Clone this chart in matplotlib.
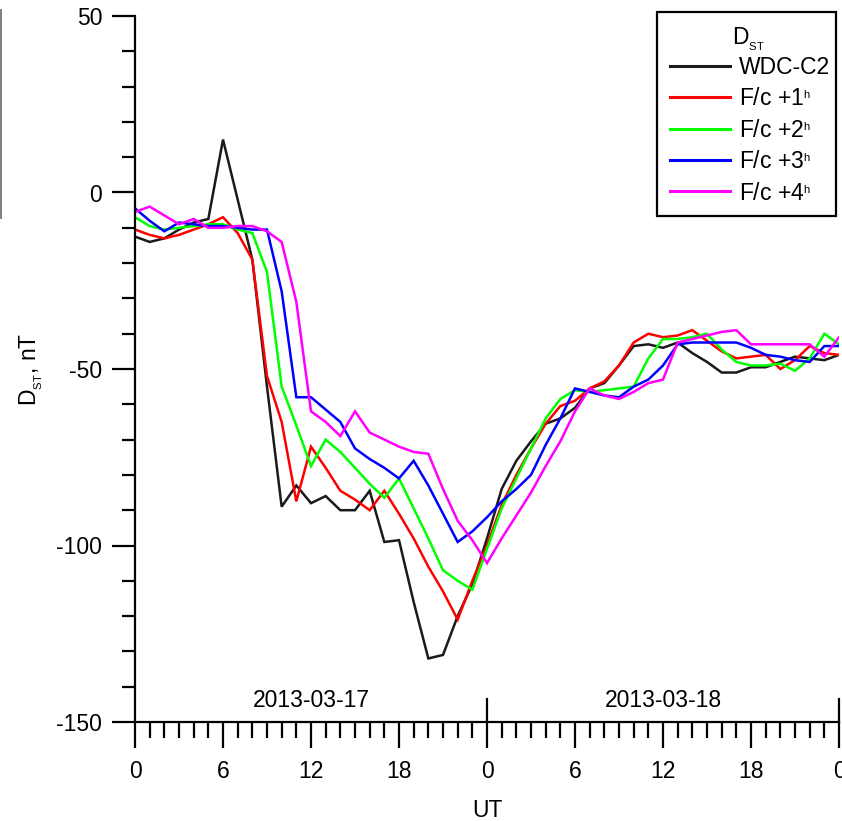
import matplotlib
matplotlib.use("Agg")
import matplotlib.pyplot as plt
import matplotlib.transforms as mtransforms
from matplotlib.lines import Line2D
from matplotlib.patches import Rectangle
from matplotlib.ticker import FixedLocator, FixedFormatter, MultipleLocator

plt.rcParams['font.family'] = ['Liberation Sans', 'DejaVu Sans']
plt.rcParams['mathtext.fontset'] = 'custom'
plt.rcParams['mathtext.rm'] = 'Liberation Sans'
plt.rcParams['mathtext.default'] = 'regular'
plt.rcParams['axes.unicode_minus'] = False

# Hourly UT from 2013-03-17 00h to 2013-03-19 00h
hours = list(range(49))

dst_wdc = [-12.5, -14, -13, -10.5, -8.5, -7.5, 15, -2, -19, -55,
           -89, -83, -88, -86, -90, -90, -84.5, -99, -98.5, -116,
           -132, -131, -120, -111, -98, -84, -76, -70.5, -65.5, -64,
           -61, -55.5, -54, -49, -43.5, -43, -44, -42.5, -45.5, -48,
           -51, -51, -49.5, -49.5, -48, -46.5, -47, -47.5, -46]

fc_1h = [-10.5, -12, -13, -12, -10.5, -9, -7, -11.5, -19, -52,
         -65, -87.5, -72, -78, -84.5, -87, -90, -84.5, -91, -98,
         -106, -113, -121, -110, -100, -88.5, -80, -72.5, -65.5, -60.5,
         -59, -55.5, -53.5, -49, -42.5, -40, -41, -40.5, -39, -42,
         -45, -47, -46.5, -46, -50, -47.5, -43.5, -45.5, -46]

fc_2h = [-7, -9.5, -10.5, -10, -9.5, -9, -9, -10.5, -11.5, -22.5,
         -55, -66, -77.5, -70, -73.5, -78, -82.5, -86.5, -81, -89.5,
         -98, -107, -110, -112.5, -101, -89.5, -81, -72.5, -64, -58.5,
         -56, -56.5, -56, -55.5, -55, -47, -41.5, -41.5, -41, -40,
         -44.5, -48, -49, -49, -48.5, -50.5, -47, -40, -43]

fc_3h = [-4.5, -8, -11, -8.5, -9, -9.5, -9.5, -10, -10.5, -10.5,
         -28, -58, -58, -61.5, -65, -72.5, -75.5, -78, -81, -76,
         -83, -91, -99, -96, -92, -87.5, -84, -80, -71.5, -64,
         -55.5, -56.5, -57.5, -58, -55, -53, -49, -43, -42.5, -42.5,
         -42.5, -42.5, -44, -46, -46.5, -47.5, -48, -43.5, -43.5]

fc_4h = [-5.5, -4, -6.5, -9, -7.5, -10, -10, -9.5, -9.5, -11,
         -14, -31, -62, -65, -69, -62, -68, -70, -72, -73.5,
         -74, -84, -93, -98.5, -105, -98, -91.5, -85, -77.5, -70.5,
         -62, -55.5, -57.5, -58.5, -56.5, -54, -53, -42.5, -41.5, -40.5,
         -39.5, -39, -43, -43, -43, -43, -43, -46.5, -41]

series_labels = ['WDC-C2', 'F/c +1$^{_{h}}$', 'F/c +2$^{_{h}}$', 'F/c +3$^{_{h}}$', 'F/c +4$^{_{h}}$']
series_colors = ['#1a1a1a', '#ff0000', '#00ff00', '#0000ff', '#ff00ff']
legend_title = r'D$_{_{ST}}$'

x_major = [0, 6, 12, 18, 24, 30, 36, 42, 48]
x_tick_labels = ['0', '6', '12', '18', '0', '6', '12', '18', '0']
y_major = [-150, -100, -50, 0, 50]
y_tick_labels = ['-150', '-100', '-50', '0', '50']
day_labels = ['2013-03-17', '2013-03-18']
day_centers = [12, 36]
day_bounds = [24, 48]

FS = 16.5
W, H = 842, 821
fig = plt.figure(figsize=(W / 100, H / 100), dpi=100)
ax = fig.add_axes([135 / W, 1 - 722 / H, (839 - 135) / W, (722 - 16) / H])

for vals, lab, col in zip([dst_wdc, fc_1h, fc_2h, fc_3h, fc_4h], series_labels, series_colors):
    ax.plot(hours, vals, color=col, lw=1.8, label=lab, solid_joinstyle='miter')

ax.set_xlim(0, 48)
ax.set_ylim(-150, 50)

for s in ['top', 'right']:
    ax.spines[s].set_visible(False)
for s in ['left', 'bottom']:
    ax.spines[s].set_linewidth(1.6)

ax.xaxis.set_major_locator(FixedLocator(x_major))
ax.xaxis.set_major_formatter(FixedFormatter(x_tick_labels))
ax.xaxis.set_minor_locator(MultipleLocator(1))
ax.yaxis.set_major_locator(FixedLocator(y_major))
ax.yaxis.set_major_formatter(FixedFormatter(y_tick_labels))
ax.yaxis.set_minor_locator(MultipleLocator(10))

ax.tick_params(axis='x', which='major', direction='out', length=18.7, width=1.6,
               labelsize=FS, pad=9)
ax.tick_params(axis='x', which='minor', direction='out', length=11.5, width=1.6)
ax.tick_params(axis='y', which='major', direction='out', length=16.6, width=1.6,
               labelsize=FS, pad=7)
ax.tick_params(axis='y', which='minor', direction='out', length=9.4, width=1.6)

# day boundary markers rising above the time axis
trans = mtransforms.blended_transform_factory(ax.transData, ax.transAxes)
for xb in day_bounds:
    ax.plot([xb, xb], [0, 23 / 706], color='black', lw=1.6, transform=trans, clip_on=False)
for xc, txt in zip(day_centers, day_labels):
    ax.text(xc, 0.031, txt, transform=trans, ha='center', va='center', fontsize=FS)

ax.set_xlabel('UT', fontsize=FS, labelpad=11)
ax.set_ylabel(r'D$_{_{ST}}$, nT', fontsize=FS, labelpad=8)

# legend entries, its heading and a plain rectangular frame
leg = ax.legend(loc='upper left', bbox_to_anchor=(657 / W, 1 - 43 / H),
                bbox_transform=fig.transFigure, borderaxespad=0,
                fontsize=FS, handlelength=2.62, handletextpad=0.42,
                labelspacing=0.37, borderpad=0.55, frameon=False)
for ln in leg.get_lines():
    ln.set_linewidth(2.2)
fig.text(748 / W, 1 - 44 / H, legend_title, ha='center', va='baseline', fontsize=FS)
fig.add_artist(Rectangle((657 / W, 1 - 216 / H), 179 / W, 204 / H,
                         transform=fig.transFigure, fill=False,
                         edgecolor='black', lw=1.6))

# thin grey rule along the left edge
fig.add_artist(Line2D([0.6 / W, 0.6 / W], [1 - 10 / H, 1 - 218 / H], color='0.45', lw=1.3))

fig.savefig('out.png', dpi=100)
